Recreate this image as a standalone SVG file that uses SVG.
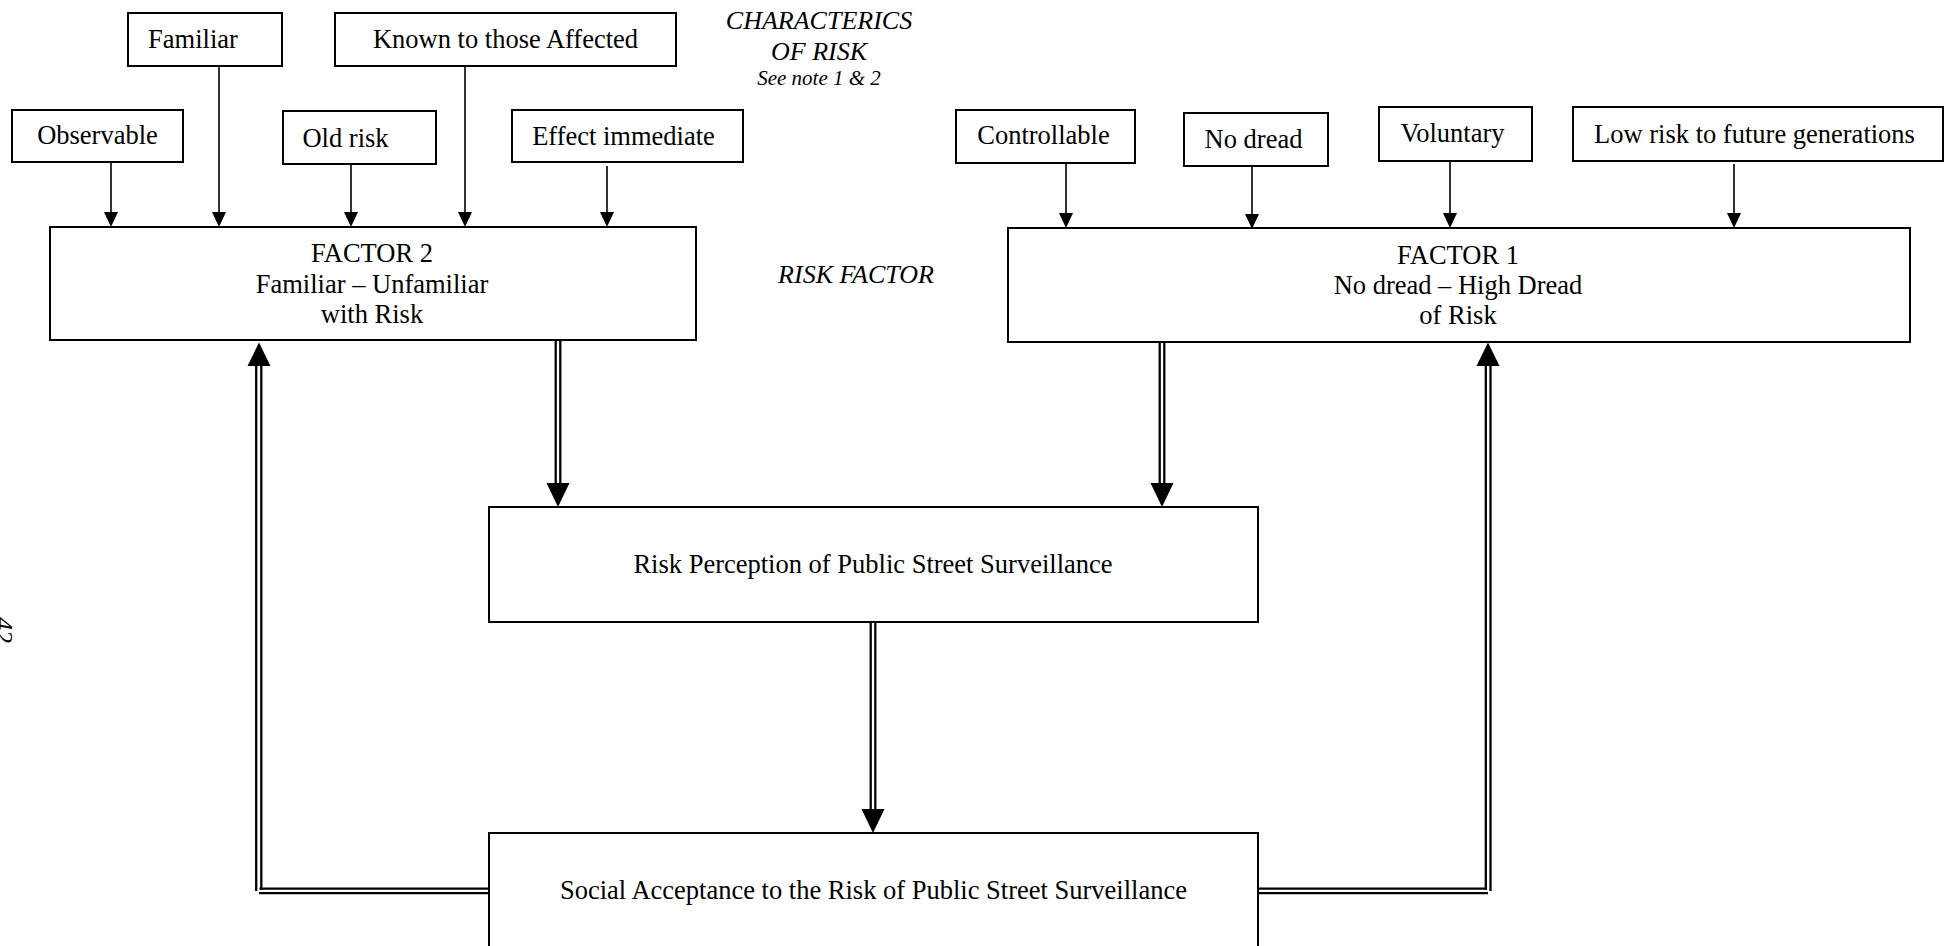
<svg xmlns="http://www.w3.org/2000/svg" width="1952" height="946" viewBox="0 0 1952 946">
  <style>
    .box { fill: #ffffff; stroke: #000000; stroke-width: 2; }
    .lbl { font-family: "Liberation Serif", "Times New Roman", serif; font-size: 26.5px; fill: #000000; text-anchor: middle; }
    .note { font-family: "Liberation Serif", "Times New Roman", serif; font-style: italic; font-size: 26px; fill: #000000; text-anchor: middle; }
    .small { font-size: 21px; }
    .wire { stroke: #000000; stroke-width: 1.6; fill: none; }
    .rail { stroke: #000000; stroke-width: 2.3; fill: none; }
    .head { fill: #000000; }
  </style>

  <!-- page number, rotated and partly cut at the left edge -->
  <text class="note" transform="translate(-5,630) rotate(90)" x="0" y="0">42</text>

  <!-- headings -->
  <g id="heading-characteristics">
    <text class="note" x="819" y="29">CHARACTERICS</text>
    <text class="note" x="819" y="60">OF RISK</text>
    <text class="note small" x="819" y="85">See note 1 &amp; 2</text>
  </g>
  <g id="heading-risk-factor">
    <text class="note" x="856" y="283">RISK FACTOR</text>
  </g>

  <!-- connectors -->
  <g id="connectors">
    <!-- single arrows: characteristic -> factor -->
    <line class="wire" x1="111" y1="162" x2="111" y2="214"/>
    <polygon class="head" points="104,212 118,212 111,227"/>
    <line class="wire" x1="219" y1="66" x2="219" y2="214"/>
    <polygon class="head" points="212,212 226,212 219,227"/>
    <line class="wire" x1="351" y1="160" x2="351" y2="214"/>
    <polygon class="head" points="344,212 358,212 351,227"/>
    <line class="wire" x1="465" y1="66" x2="465" y2="214"/>
    <polygon class="head" points="458,212 472,212 465,227"/>
    <line class="wire" x1="607" y1="166" x2="607" y2="214"/>
    <polygon class="head" points="600,212 614,212 607,227"/>

    <line class="wire" x1="1066" y1="163" x2="1066" y2="215"/>
    <polygon class="head" points="1059,213 1073,213 1066,228"/>
    <line class="wire" x1="1252" y1="167" x2="1252" y2="216"/>
    <polygon class="head" points="1245,214 1259,214 1252,229"/>
    <line class="wire" x1="1450" y1="161" x2="1450" y2="215"/>
    <polygon class="head" points="1443,213 1457,213 1450,228"/>
    <line class="wire" x1="1734" y1="164" x2="1734" y2="215"/>
    <polygon class="head" points="1727,213 1741,213 1734,228"/>

    <!-- double arrows: factors -> risk perception -->
    <line class="rail" x1="555.7" y1="340" x2="555.7" y2="485"/>
    <line class="rail" x1="560.3" y1="340" x2="560.3" y2="485"/>
    <polygon class="head" points="546.5,483 569.5,483 558,507"/>

    <line class="rail" x1="1159.7" y1="342" x2="1159.7" y2="485"/>
    <line class="rail" x1="1164.3" y1="342" x2="1164.3" y2="485"/>
    <polygon class="head" points="1150.5,483 1173.5,483 1162,507"/>

    <!-- double arrow: risk perception -> social acceptance -->
    <line class="rail" x1="870.7" y1="622" x2="870.7" y2="811"/>
    <line class="rail" x1="875.3" y1="622" x2="875.3" y2="811"/>
    <polygon class="head" points="861.5,809 884.5,809 873,833"/>

    <!-- feedback: social acceptance -> factor 2 -->
    <line class="rail" x1="256.2" y1="364" x2="256.2" y2="891"/>
    <line class="rail" x1="261.3" y1="364" x2="261.3" y2="889.8"/>
    <line class="rail" x1="259.5" y1="888.7" x2="489" y2="888.7"/>
    <line class="rail" x1="259" y1="893.2" x2="489" y2="893.2"/>
    <polygon class="head" points="247.5,366 270.5,366 259,342.5"/>

    <!-- feedback: social acceptance -> factor 1 -->
    <line class="rail" x1="1490.5" y1="364" x2="1490.5" y2="891"/>
    <line class="rail" x1="1485.8" y1="364" x2="1485.8" y2="889.8"/>
    <line class="rail" x1="1258" y1="888.7" x2="1487" y2="888.7"/>
    <line class="rail" x1="1258" y1="893.2" x2="1488" y2="893.2"/>
    <polygon class="head" points="1476.5,366 1499.5,366 1488,342.5"/>
  </g>

  <!-- characteristics feeding factor 2 -->
  <g id="observable">
    <rect class="box" x="12" y="110" width="171" height="52"/>
    <text class="lbl" x="97.5" y="144">Observable</text>
  </g>
  <g id="familiar">
    <rect class="box" x="128" y="13" width="154" height="53"/>
    <text class="lbl" x="193" y="48">Familiar</text>
  </g>
  <g id="old-risk">
    <rect class="box" x="283" y="111" width="153" height="53"/>
    <text class="lbl" x="345.5" y="147">Old risk</text>
  </g>
  <g id="known-to-affected">
    <rect class="box" x="335" y="13" width="341" height="53"/>
    <text class="lbl" x="505.5" y="48">Known to those Affected</text>
  </g>
  <g id="effect-immediate">
    <rect class="box" x="512" y="110" width="231" height="52"/>
    <text class="lbl" x="623.5" y="145">Effect immediate</text>
  </g>

  <!-- characteristics feeding factor 1 -->
  <g id="controllable">
    <rect class="box" x="956" y="110" width="179" height="53"/>
    <text class="lbl" x="1043.5" y="144">Controllable</text>
  </g>
  <g id="no-dread">
    <rect class="box" x="1184" y="113" width="144" height="53"/>
    <text class="lbl" x="1253.5" y="148">No dread</text>
  </g>
  <g id="voluntary">
    <rect class="box" x="1379" y="107" width="153" height="54"/>
    <text class="lbl" x="1452.5" y="142">Voluntary</text>
  </g>
  <g id="low-risk-future">
    <rect class="box" x="1573" y="107" width="370" height="54"/>
    <text class="lbl" x="1754.5" y="143">Low risk to future generations</text>
  </g>

  <!-- risk factors -->
  <g id="factor-2">
    <rect class="box" x="50" y="227" width="646" height="113"/>
    <text class="lbl" x="372" y="262">FACTOR 2</text>
    <text class="lbl" x="372" y="293">Familiar – Unfamiliar</text>
    <text class="lbl" x="372" y="323">with Risk</text>
  </g>
  <g id="factor-1">
    <rect class="box" x="1008" y="228" width="902" height="114"/>
    <text class="lbl" x="1458" y="264">FACTOR 1</text>
    <text class="lbl" x="1458" y="294">No dread – High Dread</text>
    <text class="lbl" x="1458" y="324">of Risk</text>
  </g>

  <!-- outcome boxes -->
  <g id="risk-perception">
    <rect class="box" x="489" y="507" width="769" height="115"/>
    <text class="lbl" x="873" y="573">Risk Perception of Public Street Surveillance</text>
  </g>
  <g id="social-acceptance">
    <rect class="box" x="489" y="833" width="769" height="150"/>
    <text class="lbl" x="873.5" y="899">Social Acceptance to the Risk of Public Street Surveillance</text>
  </g>
</svg>
